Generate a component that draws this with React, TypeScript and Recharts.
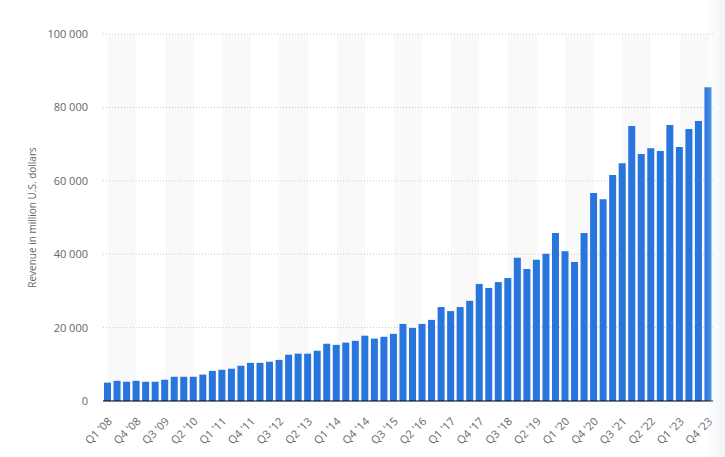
import React from 'react';
import { BarChart, Bar, XAxis, YAxis, CartesianGrid } from 'recharts';

const quarters: string[] = [
  "Q1 '08", "Q2 '08", "Q3 '08", "Q4 '08",
  "Q1 '09", "Q2 '09", "Q3 '09", "Q4 '09",
  "Q1 '10", "Q2 '10", "Q3 '10", "Q4 '10",
  "Q1 '11", "Q2 '11", "Q3 '11", "Q4 '11",
  "Q1 '12", "Q2 '12", "Q3 '12", "Q4 '12",
  "Q1 '13", "Q2 '13", "Q3 '13", "Q4 '13",
  "Q1 '14", "Q2 '14", "Q3 '14", "Q4 '14",
  "Q1 '15", "Q2 '15", "Q3 '15", "Q4 '15",
  "Q1 '16", "Q2 '16", "Q3 '16", "Q4 '16",
  "Q1 '17", "Q2 '17", "Q3 '17", "Q4 '17",
  "Q1 '18", "Q2 '18", "Q3 '18", "Q4 '18",
  "Q1 '19", "Q2 '19", "Q3 '19", "Q4 '19",
  "Q1 '20", "Q2 '20", "Q3 '20", "Q4 '20",
  "Q1 '21", "Q2 '21", "Q3 '21", "Q4 '21",
  "Q1 '22", "Q2 '22", "Q3 '22", "Q4 '22",
  "Q1 '23", "Q2 '23", "Q3 '23", "Q4 '23",
];

const revenue: number[] = [
  5000, 5500, 5250, 5500,
  5250, 5250, 5800, 6600,
  6600, 6600, 7200, 8200,
  8500, 8800, 9600, 10400,
  10400, 10700, 11200, 12600,
  12900, 12900, 13700, 15600,
  15300, 15900, 16400, 17800,
  17000, 17500, 18300, 21000,
  19900, 21000, 22100, 25600,
  24500, 25600, 27300, 31900,
  30800, 32400, 33500, 39000,
  36000, 38500, 40100, 45800,
  40800, 37900, 45800, 56700,
  55000, 61600, 64800, 74900,
  67300, 68900, 68100, 75200,
  69200, 74100, 76300, 85500,
];

const yTicks: number[] = [0, 20000, 40000, 60000, 80000, 100000];

const data = quarters.map((q, i) => ({ q, revenue: revenue[i] }));

const FONT = '"Open Sans", sans-serif';

const formatY = (v: number) =>
  String(v).replace(/\B(?=(\d{3})+(?!\d))/g, ' ');

function XTick(props: any) {
  const { x, y, payload } = props;
  return (
    <g transform={`translate(${x + 5},${y + 21}) rotate(-45)`}>
      <text
        x={0}
        y={0}
        textAnchor="end"
        fill="#666"
        fontSize={11}
        fontFamily={FONT}
      >
        {payload.value}
      </text>
    </g>
  );
}

const YLabel = (props: any) => {
  const { viewBox } = props;
  const cx = viewBox.x + 24;
  const cy = viewBox.y + viewBox.height / 2;
  return (
    <text
      x={cx}
      y={cy}
      transform={`rotate(-90, ${cx}, ${cy})`}
      textAnchor="middle"
      dominantBaseline="central"
      fill="#666"
      fontSize={10}
      fontFamily={FONT}
    >
      Revenue in million U.S. dollars
    </text>
  );
};

export default function App() {
  return (
    <div style={{ position: 'relative', width: 725, height: 457, background: '#fff' }}>
      <style>{`body{margin:0;}`}</style>
      <BarChart
        width={725}
        height={457}
        data={data}
        margin={{ top: 34, right: 12, bottom: 6, left: 8 }}
      >
        <CartesianGrid
          horizontal={false}
          vertical={true}
          stroke="none"
          verticalFill={['none', '#f9f9f9']}
        />
        <CartesianGrid
          horizontal={true}
          vertical={false}
          stroke="#c8c8c8"
          strokeDasharray="1 2"
        />
        <XAxis
          dataKey="q"
          interval={2}
          tickLine={false}
          tickSize={0}
          tickMargin={0}
          height={50}
          axisLine={{ stroke: '#000', strokeWidth: 1 }}
          tick={(p: any) => <XTick {...p} />}
        />
        <YAxis
          width={95}
          domain={[0, 100000]}
          ticks={yTicks}
          tickFormatter={formatY}
          axisLine={false}
          tickLine={false}
          tickSize={0}
          tickMargin={15}
          tick={{ fill: '#666', fontSize: 11, fontFamily: FONT }}
          label={<YLabel />}
        />
        <Bar dataKey="revenue" fill="#2876dd" barSize={7} isAnimationActive={false} />
      </BarChart>
      <div
        style={{
          position: 'absolute',
          top: 0,
          right: 0,
          width: 20,
          height: 457,
          background: 'linear-gradient(to right, rgba(240,242,246,0), rgba(236,239,244,0.7))',
          pointerEvents: 'none',
        }}
      />
    </div>
  );
}
